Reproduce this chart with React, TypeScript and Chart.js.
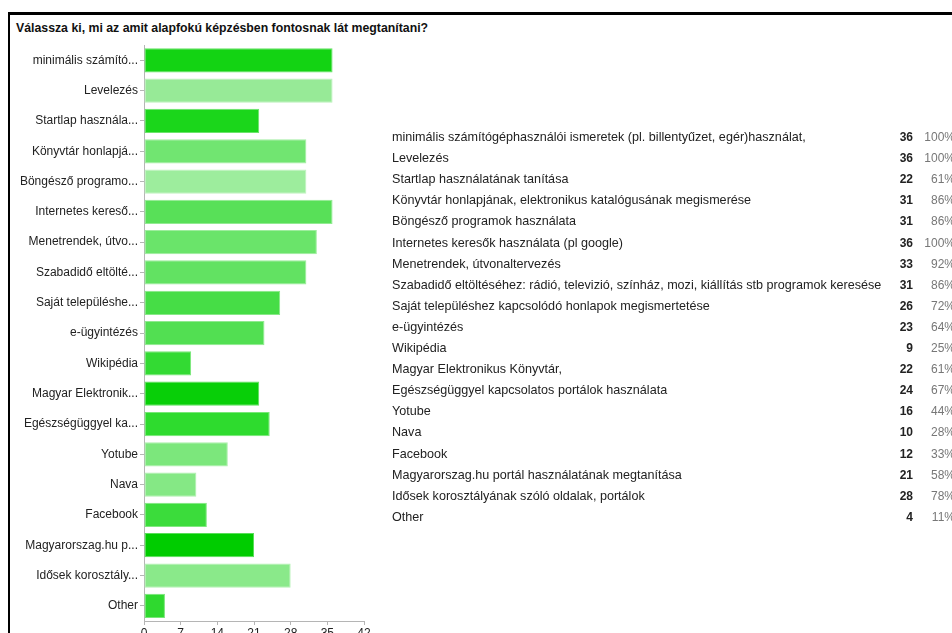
import React, { useEffect, useRef } from "react";
import { Chart, registerables } from "chart.js";

Chart.register(...registerables);

const title = "Válassza ki, mi az amit alapfokú képzésben fontosnak lát megtanítani?";

const categories = [
  "minimális számítógéphasználói ismeretek (pl. billentyűzet, egér)használat,",
  "Levelezés",
  "Startlap használatának tanítása",
  "Könyvtár honlapjának, elektronikus katalógusának megismerése",
  "Böngésző programok használata",
  "Internetes keresők használata (pl google)",
  "Menetrendek, útvonaltervezés",
  "Szabadidő eltöltéséhez: rádió, televizió, színház, mozi, kiállítás stb programok keresése",
  "Saját településhez kapcsolódó honlapok megismertetése",
  "e-ügyintézés",
  "Wikipédia",
  "Magyar Elektronikus Könyvtár,",
  "Egészségüggyel kapcsolatos portálok használata",
  "Yotube",
  "Nava",
  "Facebook",
  "Magyarorszag.hu portál használatának megtanítása",
  "Idősek korosztályának szóló oldalak, portálok",
  "Other",
];

const axisLabels = [
  "minimális számító...",
  "Levelezés",
  "Startlap használa...",
  "Könyvtár honlapjá...",
  "Böngésző programo...",
  "Internetes kereső...",
  "Menetrendek, útvo...",
  "Szabadidő eltölté...",
  "Saját településhe...",
  "e-ügyintézés",
  "Wikipédia",
  "Magyar Elektronik...",
  "Egészségüggyel ka...",
  "Yotube",
  "Nava",
  "Facebook",
  "Magyarorszag.hu p...",
  "Idősek korosztály...",
  "Other",
];

const counts = [36, 36, 22, 31, 31, 36, 33, 31, 26, 23, 9, 22, 24, 16, 10, 12, 21, 28, 4];
const percents = ["100%", "100%", "61%", "86%", "86%", "100%", "92%", "86%", "72%", "64%", "25%", "61%", "67%", "44%", "28%", "33%", "58%", "78%", "11%"];

const barColors = [
  "#13d313", "#97ea97", "#1bd61b", "#71e571", "#9ded9d", "#58e058", "#6ae46a",
  "#62e262", "#46dd46", "#52df52", "#33da33", "#08cf08", "#2edb2e", "#7ce77c",
  "#85e885", "#3bdc3b", "#00cc00", "#8ae98a", "#2fd92f",
];

const xTicks = [0, 7, 14, 21, 28, 35, 42];

function lighten(hex: string, f: number) {
  const n = parseInt(hex.slice(1), 16);
  const r = (n >> 16) & 255, g = (n >> 8) & 255, b = n & 255;
  const l = (c: number) => Math.round(c + (255 - c) * f);
  return `rgb(${l(r)},${l(g)},${l(b)})`;
}

const FONT = "'Liberation Sans', Arial, sans-serif";

export default function App() {
  const ref = useRef<HTMLCanvasElement | null>(null);
  useEffect(() => {
    if (!ref.current) return;
    const chart = new Chart(ref.current, {
      type: "bar",
      data: {
        labels: axisLabels,
        datasets: [
          {
            data: counts,
            backgroundColor: barColors,
            borderColor: barColors.map((c) => lighten(c, 0.35)),
            borderWidth: 1,
            borderSkipped: false,
            categoryPercentage: 1,
            barPercentage: 0.8,
          },
        ],
      },
      options: {
        indexAxis: "y",
        animation: false,
        responsive: false,
        maintainAspectRatio: false,
        events: [],
        layout: { padding: { top: 0, right: 8, left: 0, bottom: 0 } },
        plugins: { legend: { display: false }, tooltip: { enabled: false }, title: { display: false } },
        scales: {
          x: {
            min: 0,
            max: 42,
            afterBuildTicks: (s: any) => {
              s.ticks = xTicks.map((v) => ({ value: v }));
            },
            afterFit: (s: any) => {
              s.height = 19;
            },
            grid: { display: true, drawOnChartArea: false, drawTicks: true, tickLength: 4, color: "#b5b5b5" },
            border: { display: true, color: "#b5b5b5" },
            ticks: { color: "#222", font: { family: FONT, size: 12 }, padding: 1, maxRotation: 0 },
          },
          y: {
            afterFit: (s: any) => {
              s.width = 144;
            },
            grid: { display: true, drawOnChartArea: false, drawTicks: true, tickLength: 4, color: "#b5b5b5", offset: false },
            border: { display: true, color: "#b5b5b5" },
            ticks: { color: "#222", font: { family: FONT, size: 12 }, padding: 2, autoSkip: false },
          },
        },
      },
    });
    return () => chart.destroy();
  }, []);

  return (
    <div style={{ position: "fixed", left: 0, top: 0, width: 952, height: 633, overflow: "hidden", background: "#fff", fontFamily: FONT }}>
      <div style={{ position: "absolute", left: 8, top: 12, width: 1200, height: 1200, borderLeft: "2px solid #000", borderTop: "3px solid #000" }} />
      <div style={{ position: "absolute", left: 16, top: 21, fontSize: 12.3, fontWeight: "bold", color: "#111", whiteSpace: "nowrap" }}>{title}</div>
      <canvas ref={ref} width={372} height={604} style={{ position: "absolute", left: 0, top: 36, width: 372, height: 604 }} />
      {categories.map((c, i) => (
        <div key={i} style={{ position: "absolute", left: 0, top: 137 + i * 21.1 - 8, height: 16, width: 1000, fontSize: 12.6, lineHeight: "16px", whiteSpace: "nowrap" }}>
          <span style={{ position: "absolute", left: 392, color: "#222" }}>{c}</span>
          <span style={{ position: "absolute", right: 1000 - 913, fontWeight: "bold", color: "#222", fontSize: 12 }}>{counts[i]}</span>
          <span style={{ position: "absolute", right: 1000 - 955, color: "#777", fontSize: 12 }}>{percents[i]}</span>
        </div>
      ))}
    </div>
  );
}
